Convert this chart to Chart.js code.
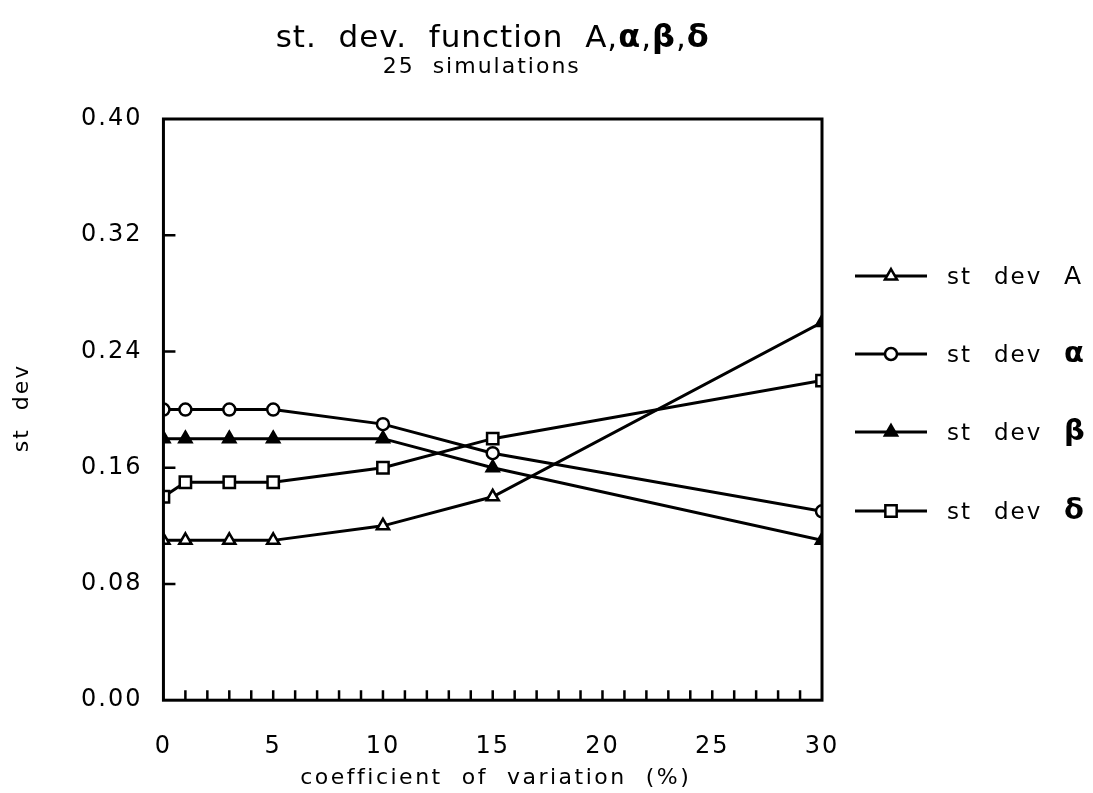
<!DOCTYPE html>
<html>
<head>
<meta charset="utf-8">
<script src="https://cdn.jsdelivr.net/npm/chart.js@4.4.0/dist/chart.umd.min.js"></script>
<style>
  html, body { margin: 0; padding: 0; background: #fff; }
  #wrap { width: 1093px; height: 793px; }
</style>
</head>
<body>
<div id="wrap"><canvas id="chart"></canvas></div>
<script>
// coefficient of variation (%)
var cv_values = [0, 1, 3, 5, 10, 15, 30];
var sd_A     = [0.11, 0.11, 0.11, 0.11, 0.12, 0.14, 0.26];
var sd_alpha = [0.20, 0.20, 0.20, 0.20, 0.19, 0.17, 0.13];
var sd_beta  = [0.18, 0.18, 0.18, 0.18, 0.18, 0.16, 0.11];
var sd_delta = [0.14, 0.15, 0.15, 0.15, 0.16, 0.18, 0.22];
var series_names = ["A", "\u03b1", "\u03b2", "\u03b4"];
var x_ticks = [0, 5, 10, 15, 20, 25, 30];
var y_ticks = [0, 0.08, 0.16, 0.24, 0.32, 0.40];

var FONT = "'DejaVu Sans', sans-serif";
var TICK_SPACING = "2px";

function pts(ys) {
    return cv_values.map(function (x, i) { return {x: x, y: ys[i]}; });
}

function make_ds(label, ys, style, fill) {
    var r = style === "rect" ? 8 : (style === "circle" ? 6 : 7);
    return {
        label: label,
        data: pts(ys),
        borderColor: "#000",
        borderWidth: 3,
        pointStyle: style,
        pointRadius: r,
        pointBorderWidth: 2.5,
        pointBorderColor: "#000",
        pointBackgroundColor: fill,
        tension: 0
    };
}

// last A marker looks filled in the scan
var a_fill = cv_values.map(function (v, i) { return i === cv_values.length - 1 ? "#000" : "#fff"; });

var framePlugin = {
    id: "frame",
    beforeUpdate: function (chart) { chart.ctx.letterSpacing = TICK_SPACING; },
    beforeDraw: function (chart) { chart.ctx.letterSpacing = TICK_SPACING; },
    afterDraw: function (chart) {
        var ctx = chart.ctx, a = chart.chartArea;
        var xs = chart.scales.x, ys = chart.scales.y;
        ctx.save();
        ctx.strokeStyle = "#000";
        ctx.lineWidth = 3;
        ctx.strokeRect(a.left, a.top, a.right - a.left, a.bottom - a.top);
        // inner ticks
        ctx.lineWidth = 2.5;
        ctx.beginPath();
        for (var i = 1; i < 30; i++) {
            var px = xs.getPixelForValue(i);
            ctx.moveTo(px, a.bottom);
            ctx.lineTo(px, a.bottom - 10);
        }
        for (var j = 1; j < y_ticks.length - 1; j++) {
            var py = ys.getPixelForValue(y_ticks[j]);
            ctx.moveTo(a.left, py);
            ctx.lineTo(a.left + 12, py);
        }
        ctx.stroke();

        var cx = (a.left + a.right) / 2;
        ctx.fillStyle = "#000";
        ctx.textBaseline = "alphabetic";

        // title with bold greek letters
        var parts = [["st.  dev.  function  A,", false], ["\u03b1", true], [",", false], ["\u03b2", true], [",", false], ["\u03b4", true]];
        ctx.letterSpacing = "1px";
        var w = 0;
        parts.forEach(function (p) {
            ctx.font = (p[1] ? "bold 32px " : "31px ") + FONT;
            p.push(ctx.measureText(p[0]).width);
            w += p[2];
        });
        var tx = cx - w / 2;
        ctx.textAlign = "left";
        parts.forEach(function (p) {
            ctx.font = (p[1] ? "bold 32px " : "31px ") + FONT;
            ctx.fillText(p[0], tx, 47);
            tx += p[2];
        });
        ctx.font = "22px " + FONT;
        ctx.letterSpacing = "2px";
        ctx.textAlign = "center";
        ctx.fillText("25  simulations", cx - 11, 73);

        // axis titles
        ctx.font = "22px " + FONT;
        ctx.letterSpacing = "2.5px";
        ctx.fillText("coefficient  of  variation  (%)", cx + 3, 784);
        ctx.save();
        ctx.letterSpacing = "2px";
        ctx.translate(28, 408);
        ctx.rotate(-Math.PI / 2);
        ctx.fillText("st  dev", 0, 0);
        ctx.restore();

        // legend
        var ly = [276, 354, 432, 511];
        chart.data.datasets.forEach(function (ds, k) {
            var y = ly[k];
            ctx.strokeStyle = "#000";
            ctx.lineWidth = 3;
            ctx.beginPath();
            ctx.moveTo(855, y);
            ctx.lineTo(927, y);
            ctx.stroke();
            ctx.lineWidth = 2.5;
            ctx.fillStyle = k === 2 ? "#000" : "#fff";
            Chart.helpers.drawPoint(ctx, {pointStyle: ds.pointStyle, radius: ds.pointRadius, rotation: 0, borderWidth: 2.5}, 891, y);
            ctx.fillStyle = "#000";
            ctx.textAlign = "left";
            ctx.textBaseline = "alphabetic";
            ctx.letterSpacing = "2px";
            ctx.font = "23px " + FONT;
            ctx.fillText("st", 947, y + 8);
            ctx.fillText("dev", 994, y + 8);
            ctx.letterSpacing = "0px";
            if (k === 0) {
                ctx.font = "25px " + FONT;
            } else {
                ctx.font = "bold 29px " + FONT;
            }
            ctx.fillText(series_names[k], 1064, y + 8);
        });
        ctx.restore();
    }
};

var ctx = document.getElementById("chart").getContext("2d");
var myChart = new Chart(ctx, {
    type: "line",
    data: {
        datasets: [
            make_ds("st dev A", sd_A, "triangle", a_fill),
            make_ds("st dev \u03b1", sd_alpha, "circle", "#fff"),
            make_ds("st dev \u03b2", sd_beta, "triangle", "#000"),
            make_ds("st dev \u03b4", sd_delta, "rect", "#fff")
        ]
    },
    options: {
        responsive: true,
        maintainAspectRatio: false,
        animation: false,
        layout: {
            padding: {top: 119, right: 271, left: 60, bottom: 0}
        },
        scales: {
            x: {
                type: "linear",
                min: 0,
                max: 30,
                afterBuildTicks: function (s) { s.ticks = x_ticks.map(function (v) { return {value: v}; }); },
                grid: {display: false, drawTicks: false},
                border: {display: false},
                ticks: {
                    color: "#000",
                    padding: 32,
                    maxRotation: 0,
                    font: {family: FONT, size: 24}
                }
            },
            y: {
                min: 0,
                max: 0.40,
                afterBuildTicks: function (s) { s.ticks = y_ticks.map(function (v) { return {value: v}; }); },
                grid: {display: false, drawTicks: false},
                border: {display: false},
                ticks: {
                    color: "#000",
                    padding: 21,
                    font: {family: FONT, size: 24},
                    callback: function (v) { return Number(v).toFixed(2); }
                }
            }
        },
        plugins: {
            legend: {display: false},
            title: {display: false},
            tooltip: {enabled: false}
        }
    },
    plugins: [framePlugin]
});
</script>
</body>
</html>
